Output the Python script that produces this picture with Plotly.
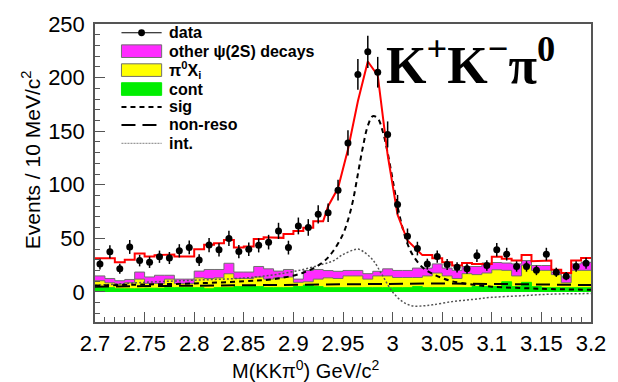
import numpy as np
import plotly.graph_objects as go

# ---------------- data ----------------
x_lo, x_hi, bin_w = 2.7, 3.2, 0.01

data_counts = [26, 37.5, 21.6, 42, 29.3, 27.7, 32.9, 31.7, 38.4, 41.6,
               29.8, 43.8, 39.3, 50, 37.7, 39.8, 43.5, 46.5, 57, 41.4,
               61.6, 60.2, 72.5, 74, 95, 139, 203, 224, 205, 147,
               81.5, 52, 40.5, 26, 33, 25.6, 23, 21.6, 33.8, 24.7,
               39.5, 35.3, 23.8, 23.8, 20.2, 35.3, 18.4, 14.7, 23.8, 26.8]

fit_total = [31.4, 31.4, 27.7, 30, 36, 33, 34.4, 35, 33, 33,
             39.8, 44, 45.5, 48.5, 41.5, 42.4, 49.5, 51, 50.5, 54,
             57, 60, 66, 80, 97, 133, 178, 215, 202, 128,
             72, 48, 39, 34.4, 31.4, 27.7, 24.7, 27.1, 26.2, 26.2,
             32.9, 31, 29.3, 34.4, 28.6, 29.3, 20.7, 17.7, 29.3, 31.6]
fit_smooth_bins = list(range(23, 33))

# stacked histogram tops (cont, cont+pi0Xi, cont+pi0Xi+other)
stack_cont = [4, 4, 3, 3, 3, 3.5, 3.5, 4, 4, 4,
              4, 3, 4, 4, 5, 5, 5, 4, 4, 4,
              5, 6.5, 5, 4, 4, 4, 4, 4, 4, 4,
              4, 4, 5, 4, 4, 4, 4, 4, 5, 5,
              5, 9.5, 5, 9, 5, 4, 4, 4, 4, 4]
stack_pi0xi = [10.5, 8.6, 7.4, 8.6, 12, 8, 8, 12, 8, 8,
               13.2, 12.6, 13.2, 17, 12.6, 12.6, 14, 12, 13.2, 14,
               9, 9.5, 12, 13.2, 12.6, 15, 15, 12, 15, 15,
               13.5, 13.5, 13.5, 15, 17.7, 15, 12.6, 17.1, 16.2, 17.7,
               20.7, 20.2, 15, 25, 20.2, 20.2, 16.2, 8.6, 20.2, 20.2]
stack_other = [15, 12.6, 10.5, 11.7, 18.6, 14, 15.6, 15.6, 12, 12,
               19.5, 21, 21, 26.8, 18.6, 18.6, 23.8, 21.6, 19.5, 21,
               12, 20, 21, 20, 19.3, 20.1, 20.1, 17.1, 19.3, 21.6,
               20.1, 20.1, 22.3, 22.3, 26.2, 22.3, 20.2, 23.8, 23.8, 27.1,
               27.5, 27, 26.2, 29.3, 24.7, 24.7, 18.6, 14, 26.2, 27.7]

sig_mass = [2.70, 2.75, 2.80, 2.85, 2.88, 2.91, 2.93, 2.94, 2.95, 2.955, 2.96, 2.965,
            2.97, 2.975, 2.98, 2.985, 2.99, 2.995, 3.00, 3.005, 3.01, 3.015, 3.02,
            3.03, 3.04, 3.05, 3.06, 3.08, 3.10, 3.15, 3.20]
sig_vals = [6, 7, 8, 10, 12, 18, 28, 38, 54, 67, 85, 110,
            135, 155, 164, 162, 150, 130, 105, 80, 60, 45, 35,
            23, 17, 13, 10, 7, 5, 3, 2]

int_mass = [2.70, 2.75, 2.80, 2.85, 2.88, 2.91, 2.93, 2.94, 2.95, 2.96, 2.965, 2.97,
            2.98, 2.99, 3.00, 3.01, 3.02, 3.03, 3.04, 3.06, 3.08, 3.10, 3.13, 3.16, 3.20]
int_vals = [6, 9, 11, 13, 16, 21, 26, 29, 35, 39, 40, 38,
            30, 15, 0, -9, -13, -13, -12, -9, -7, -5, -3.5, -2, -1.5]

nonreso_mass = [2.70, 2.75, 2.80, 2.85, 2.90, 2.95, 3.00, 3.05, 3.10, 3.15, 3.20]
nonreso_vals = [5, 5.5, 6, 6.5, 7, 7.5, 8, 8, 7.5, 7, 6.5]

x_tick_vals = [2.7, 2.75, 2.8, 2.85, 2.9, 2.95, 3.0, 3.05, 3.1, 3.15, 3.2]
x_tick_text = ["2.7", "2.75", "2.8", "2.85", "2.9", "2.95", "3", "3.05", "3.1", "3.15", "3.2"]
y_tick_vals = [0, 50, 100, 150, 200, 250]

legend_labels = ["data", "other \u03c8(2S) decays", "\u03c0<sup>0</sup>X<sub>i</sub>", "cont",
                 "sig", "non-reso", "int."]

# ---------------- geometry ----------------
W, H = 618, 382
ML, MR, MT, MB = 95, 17, 15, 60
PW, PH = W - ML - MR, H - MT - MB
YR = [-28, 250]

def px2p(px):
    return (px - ML) / PW

def py2p(py):
    return (H - MB - py) / PH

n_bins = len(data_counts)
edges = x_lo + bin_w * np.arange(n_bins + 1)
centers = edges[:-1] + bin_w / 2

def step_xy(vals):
    return list(edges), list(vals) + [vals[-1]]

MAG, YEL, GRN = "#ff2bff", "#ffff00", "#00ee00"
OUT = "#707070"

fig = go.Figure()
for vals, col, lc in [(stack_other, MAG, OUT), (stack_pi0xi, YEL, OUT), (stack_cont, GRN, GRN)]:
    sx, sy = step_xy(vals)
    fig.add_trace(go.Scatter(x=sx, y=sy, mode="lines", line=dict(shape="hv", color=lc, width=1),
                             fill="tozeroy", fillcolor=col, showlegend=False, hoverinfo="skip"))

fig.add_trace(go.Scatter(x=nonreso_mass, y=nonreso_vals, mode="lines",
                         line=dict(color="black", width=2, dash="14px,7px"), showlegend=False))
fig.add_trace(go.Scatter(x=int_mass, y=int_vals, mode="lines", line_shape="spline",
                         line=dict(color="#555555", width=1.5, dash="2px,2px"), showlegend=False))
fig.add_trace(go.Scatter(x=sig_mass, y=sig_vals, mode="lines", line_shape="spline",
                         line=dict(color="black", width=2, dash="5px,4px"), showlegend=False))

rx, ry = [], []
for i, v in enumerate(fit_total):
    if i in fit_smooth_bins:
        rx.append(centers[i]); ry.append(v)
    else:
        rx += [edges[i], edges[i + 1]]; ry += [v, v]
fig.add_trace(go.Scatter(x=rx, y=ry, mode="lines", line=dict(color="#ff0000", width=2),
                         showlegend=False))

fig.add_trace(go.Scatter(x=centers, y=data_counts, mode="markers",
                         marker=dict(color="black", size=7),
                         error_y=dict(type="data", array=np.sqrt(data_counts), color="black",
                                      thickness=1.5, width=0),
                         showlegend=False))

# ---------------- manual legend ----------------
rows = [24, 43, 62.5, 82, 100.5, 119, 138]
sx0, sx1, tx = 122, 163, 168
shapes = []
annos = []
shapes.append(dict(type="line", xref="paper", yref="paper", x0=px2p(sx0), x1=px2p(sx1),
                   y0=py2p(rows[0]), y1=py2p(rows[0]), line=dict(color="black", width=1.2)))
shapes.append(dict(type="circle", xref="paper", yref="paper", x0=px2p(139), x1=px2p(146),
                   y0=py2p(rows[0] + 3.5), y1=py2p(rows[0] - 3.5), fillcolor="black",
                   line=dict(color="black", width=0)))
for r, col, lc in [(rows[1], MAG, OUT), (rows[2], YEL, OUT), (rows[3], GRN, GRN)]:
    shapes.append(dict(type="rect", xref="paper", yref="paper", x0=px2p(sx0), x1=px2p(sx1),
                       y0=py2p(r + 6.5), y1=py2p(r - 6.5), fillcolor=col, line=dict(color=lc, width=1)))
for r, dash, col, wd in [(rows[4], "5px,4px", "black", 2), (rows[5], "14px,7px", "black", 2),
                         (rows[6], "2px,1px", "#999999", 1.2)]:
    shapes.append(dict(type="line", xref="paper", yref="paper", x0=px2p(sx0), x1=px2p(sx1),
                       y0=py2p(r), y1=py2p(r), line=dict(color=col, width=wd, dash=dash)))
for r, lab in zip(rows, legend_labels):
    annos.append(dict(text="<b>" + lab + "</b>", xref="paper", yref="paper", x=px2p(tx), y=py2p(r),
                      xanchor="left", yanchor="middle", showarrow=False,
                      font=dict(family="Liberation Sans", size=16, color="black")))

annos.append(dict(text="<b>K<sup>+</sup>K<sup>\u2212</sup>\u03c0<sup>0</sup></b>", xref="paper", yref="paper",
                  x=px2p(390), y=py2p(54), xanchor="left", yanchor="middle", showarrow=False,
                  font=dict(family="Liberation Serif", size=52, color="black")))
annos.append(dict(text="Events / 10 MeV/c<sup>2</sup>", xref="paper", yref="paper",
                  x=px2p(30), y=py2p(155), textangle=-90, xanchor="center", yanchor="middle",
                  showarrow=False, font=dict(family="Liberation Sans", size=21, color="black")))
annos.append(dict(text="M(KK\u03c0<sup>0</sup>) GeV/c<sup>2</sup>", xref="paper", yref="paper",
                  x=px2p(310), y=py2p(371), xanchor="center", yanchor="middle",
                  showarrow=False, font=dict(family="Liberation Sans", size=20, color="black")))

axis_common = dict(showgrid=False, zeroline=False, showline=True, linecolor="#555555", linewidth=1.5,
                   mirror=True, ticks="inside", ticklen=10, tickcolor="#555555", tickwidth=1,
                   tickfont=dict(family="Liberation Sans", size=22, color="black"))

fig.update_layout(
    width=W, height=H, margin=dict(l=ML, r=MR, t=MT, b=MB),
    paper_bgcolor="white", plot_bgcolor="white", showlegend=False,
    xaxis=dict(range=[x_lo, x_hi], tickvals=x_tick_vals, ticktext=x_tick_text,
               minor=dict(dtick=0.01, tick0=2.7, ticks="inside", ticklen=5, tickcolor="#555555"),
               ticklabelstandoff=1, **axis_common),
    yaxis=dict(range=YR, tickvals=y_tick_vals,
               minor=dict(dtick=10, tick0=0, ticks="inside", ticklen=5, tickcolor="#555555"),
               ticklabelstandoff=4, **axis_common),
    shapes=shapes, annotations=annos,
)

fig.write_html("out.html")
